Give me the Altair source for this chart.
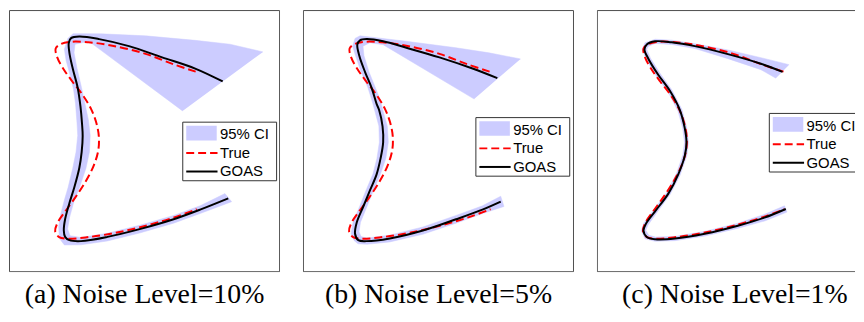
import altair as alt
import pandas as pd

# ---------------- data (panel-relative units, y up) ----------------
CAPTIONS = ["(a) Noise Level=10%", "(b) Noise Level=5%", "(c) Noise Level=1%"]
LEGEND_LABELS = ["95% CI", "True", "GOAS"]

# true curve (same in every panel)
TRUE_X = [188, 166, 137.5, 104, 80, 62, 52, 47, 48.5, 55, 64, 74, 82.5, 88, 90.5, 89.8, 85, 77, 67,
          56.5, 49, 46.5, 50.5, 59, 80, 110, 142, 168, 189]
TRUE_Y = [208.5, 216, 227, 235.5, 239, 239.5, 237, 232.5, 223.5, 211, 198, 184.5, 170, 155, 141, 126,
          110, 94, 78, 63, 51.5, 42.5, 36.5, 34.8, 36.5, 41.5, 49.5, 57.5, 65.5]

# GOAS estimates
GOAS1_X = [215.2, 187.5, 154.2, 120.8, 90.8, 70.8, 62.5, 60.2, 60.8, 64.2, 69.2, 72, 73.5, 74.2, 73.2,
           70.8, 65.8, 60.8, 56.5, 55.2, 56.5, 60.8, 72.5, 99.2, 132.5, 165.8, 192.5, 220.8]
GOAS1_Y = [198.3, 211.7, 223.3, 235, 242.3, 245, 243.3, 238.3, 228.3, 211.7, 191.7, 172, 155, 141.7, 125,
           108.3, 88.3, 71.7, 55, 43.3, 36.7, 33.3, 32.3, 36.7, 45, 55, 65, 76.7]

GOAS2_X = [195.8, 170.8, 137.5, 104.2, 80.8, 64.2, 57.5, 54.8, 56.8, 62.5, 69.2, 74.2, 76.8, 80.2, 80.8,
           78.2, 74.2, 67.5, 60.8, 54.2, 52.5, 55.8, 64.2, 87.5, 120.8, 154.2, 180.8, 199.2]
GOAS2_Y = [201.7, 211.7, 223.3, 233.3, 240, 242.3, 241, 236.7, 225, 208.3, 191.7, 175, 168.3, 151.7, 135,
           118.3, 101.7, 85, 68.3, 51.7, 40, 33.3, 32.3, 35, 43.3, 55, 65, 73.3]

GOAS3_X = [187, 165.3, 132, 98.7, 75.3, 58.7, 50.3, 48, 52, 62, 73.7, 83.7, 88.5, 90.3, 88.7, 82, 72,
           58.7, 49.3, 47, 50.3, 58.7, 78.7, 108.7, 142, 168.7, 190.3]
GOAS3_Y = [208.3, 216.7, 226.7, 235, 239, 240, 236.7, 231.7, 221.7, 205, 188.3, 168.3, 150, 135, 121.7,
           101.7, 81.7, 63.3, 50, 43.3, 36.7, 34.3, 35, 40, 48.3, 56.7, 65.7]

# 95% CI outlines (closed polygons)
CI1_X = [255.8, 222.5, 187.5, 137.5, 92.5, 64.5, 59.2, 55.8, 57.5, 61.5, 65, 67, 68.5, 69.2, 67.5, 64.2,
         59.5, 55.8, 52, 50, 50.8, 55.8, 72.5, 99.2, 132.5, 165.8, 192.5, 224.2,
         217.5, 192.5, 165.8, 132.5, 99.2, 72.5, 61.5, 59, 61, 65.8, 71, 77.5, 81, 81.8, 80, 76.5, 73,
         68.5, 65.5, 66.5, 80.5, 174.8]
CI1_Y = [229, 237, 241, 245.7, 247.8, 248, 243, 231.7, 220, 205, 190, 175, 155, 142, 125, 108,
         88, 75, 60, 47, 35, 28.3, 28.5, 32.5, 41, 51, 61, 73.3,
         81.7, 69, 59, 49, 40.5, 36, 38, 45, 57, 75, 88, 108, 125, 142, 158, 175, 192,
         212, 228, 237, 240, 167.7]

CI2_X = [219.2, 187.5, 154.2, 104.2, 67.5, 57.5, 52.5, 50, 53, 58.5, 65.5, 70.5, 76.5, 77, 74.5, 70.5,
         63.5, 57, 50.5, 48.5, 51.5, 55.5, 64.5, 87.5, 120.8, 154.2, 180.8, 202.5,
         199.2, 180.8, 154.2, 120.8, 87.5, 64.5, 58.5, 56.5, 58, 64.5, 71, 78, 83.5, 86, 85, 80.5, 77.5,
         73, 66.5, 61.5, 60.5, 67.5, 80.8, 172.5]
CI2_Y = [221.7, 228, 233.3, 240, 244.5, 245.7, 243, 235, 225, 208.3, 191.7, 175, 152, 135, 118, 102,
         85, 68, 52, 40, 33, 29.5, 29, 31.5, 39.5, 51, 61, 68.3,
         79, 69, 59, 47, 38.5, 35.5, 37, 42, 52, 68.3, 85, 101.7, 118.3, 135, 151.7, 168.3, 180,
         191.7, 208.3, 225, 235, 238.5, 236.5, 180]

CI3_X = [193.7, 165.3, 132, 98.7, 75.3, 58.7, 48.5, 45.8, 50, 60, 71.8, 81.7, 86.5, 88.3, 86.7, 80.2,
         70.3, 57, 47.3, 44.8, 48.5, 58.7, 78.7, 109.2, 142.7, 169.7, 191.5,
         189, 167.7, 141.3, 108.2, 78.7, 59, 52.3, 49.3, 51.5, 60.5, 73.7, 83.8, 90.7, 92.3, 90.5,
         85.7, 75.6, 64, 54, 50.2, 52, 58.7, 75.3, 98.7, 132, 165.3, 180.3]
CI3_Y = [215.7, 223, 231, 237.5, 241.2, 242.2, 238.5, 231.5, 220.5, 203.8, 187.2, 167.5, 149.7, 135, 122,
         102.5, 82.7, 64.5, 51, 43.2, 34.7, 32.1, 32.8, 37.7, 45.8, 53.5, 62.5,
         69, 59.7, 50.7, 42.3, 37.2, 36.5, 38.5, 43.5, 49, 62, 80.7, 100.8, 121.4, 135, 150.3,
         169, 189.4, 206.2, 222.5, 231.8, 235, 237.8, 236.8, 232.5, 222, 210.5, 201.7]

# ---------------- layout / style ----------------
WIDTHS = [273, 273, 260]
HEIGHT = 264
Y_DOMAIN = [0, 272.5]
LEGEND_POS = [(175, 112.9), (174.2, 108.3), (173.7, 104.1)]  # pixel (left, top) in each panel
TITLE_DX = [0, 0, 9]
CI_COLOR = "#ccccff"
FRAME_COLOR = "#4d4d4d"


def panel(k, gx, gy, cx, cy):
    w = WIDTHS[k]
    xs = alt.Scale(domain=[0, w], nice=False, zero=False)
    ys = alt.Scale(domain=Y_DOMAIN, nice=False, zero=False)

    def enc():
        return dict(
            x=alt.X("x:Q", scale=xs, axis=None),
            y=alt.Y("y:Q", scale=ys, axis=None),
            order=alt.Order("i:Q"),
        )

    ci_df = pd.DataFrame({"x": cx, "y": cy, "i": range(len(cx))})
    tr_df = pd.DataFrame({"x": TRUE_X, "y": TRUE_Y, "i": range(len(TRUE_X))})
    go_df = pd.DataFrame({"x": gx, "y": gy, "i": range(len(gx))})

    ci = alt.Chart(ci_df).mark_line(fill=CI_COLOR, stroke=CI_COLOR, strokeWidth=0.5).encode(**enc())
    tr = alt.Chart(tr_df).mark_line(stroke="#ff0000", strokeWidth=2, strokeDash=[8, 4],
                                    interpolate="catmull-rom").encode(**enc())
    go = alt.Chart(go_df).mark_line(stroke="#000000", strokeWidth=2,
                                    interpolate="catmull-rom").encode(**enc())

    L, T = LEGEND_POS[k]
    box = alt.Chart().mark_rect(fill="white", stroke="#333333", strokeWidth=1, clip=True).encode(
        x=alt.value(L), x2=alt.value(L + 94.5), y=alt.value(T), y2=alt.value(T + 59))
    sw = alt.Chart().mark_rect(fill=CI_COLOR, clip=True).encode(
        x=alt.value(L + 3.5), x2=alt.value(L + 34.2), y=alt.value(T + 3.7), y2=alt.value(T + 18.4))
    lt = alt.Chart().mark_rule(stroke="#ff0000", strokeWidth=2, strokeDash=[8, 4]).encode(
        x=alt.value(L + 3.5), x2=alt.value(L + 35), y=alt.value(T + 31))
    lg = alt.Chart().mark_rule(stroke="#000000", strokeWidth=2).encode(
        x=alt.value(L + 3.5), x2=alt.value(L + 35), y=alt.value(T + 49.7))
    texts = []
    for lab, dy in zip(LEGEND_LABELS, [12.3, 31, 49.7]):
        texts.append(alt.Chart().mark_text(align="left", baseline="middle", font="Liberation Sans",
                                           fontSize=15, color="black", clip=True).encode(
            x=alt.value(L + 37.5), y=alt.value(T + dy), text=alt.value(lab)))

    x2f = w - 0.5 if k < 2 else w + 20
    frame = alt.Chart().mark_rect(fillOpacity=0, stroke=FRAME_COLOR, strokeWidth=1, clip=True).encode(
        x=alt.value(0.5), x2=alt.value(x2f), y=alt.value(0.5), y2=alt.value(HEIGHT - 0.5))

    title = alt.TitleParams(CAPTIONS[k], orient="bottom", font="Liberation Serif", fontSize=28,
                            fontWeight="normal", color="black", offset=9, dx=TITLE_DX[k])
    return alt.layer(ci, tr, go, box, sw, lt, lg, *texts, frame).properties(
        width=w, height=HEIGHT, title=title)


p1 = panel(0, GOAS1_X, GOAS1_Y, CI1_X, CI1_Y)
p2 = panel(1, GOAS2_X, GOAS2_Y, CI2_X, CI2_Y)
p3 = panel(2, GOAS3_X, GOAS3_Y, CI3_X, CI3_Y)

chart = alt.hconcat(p1, p2, p3, spacing=21).properties(padding=0).configure_view(
    stroke="transparent")

chart.save("out.html", embed_options={"renderer": "svg", "actions": False})
